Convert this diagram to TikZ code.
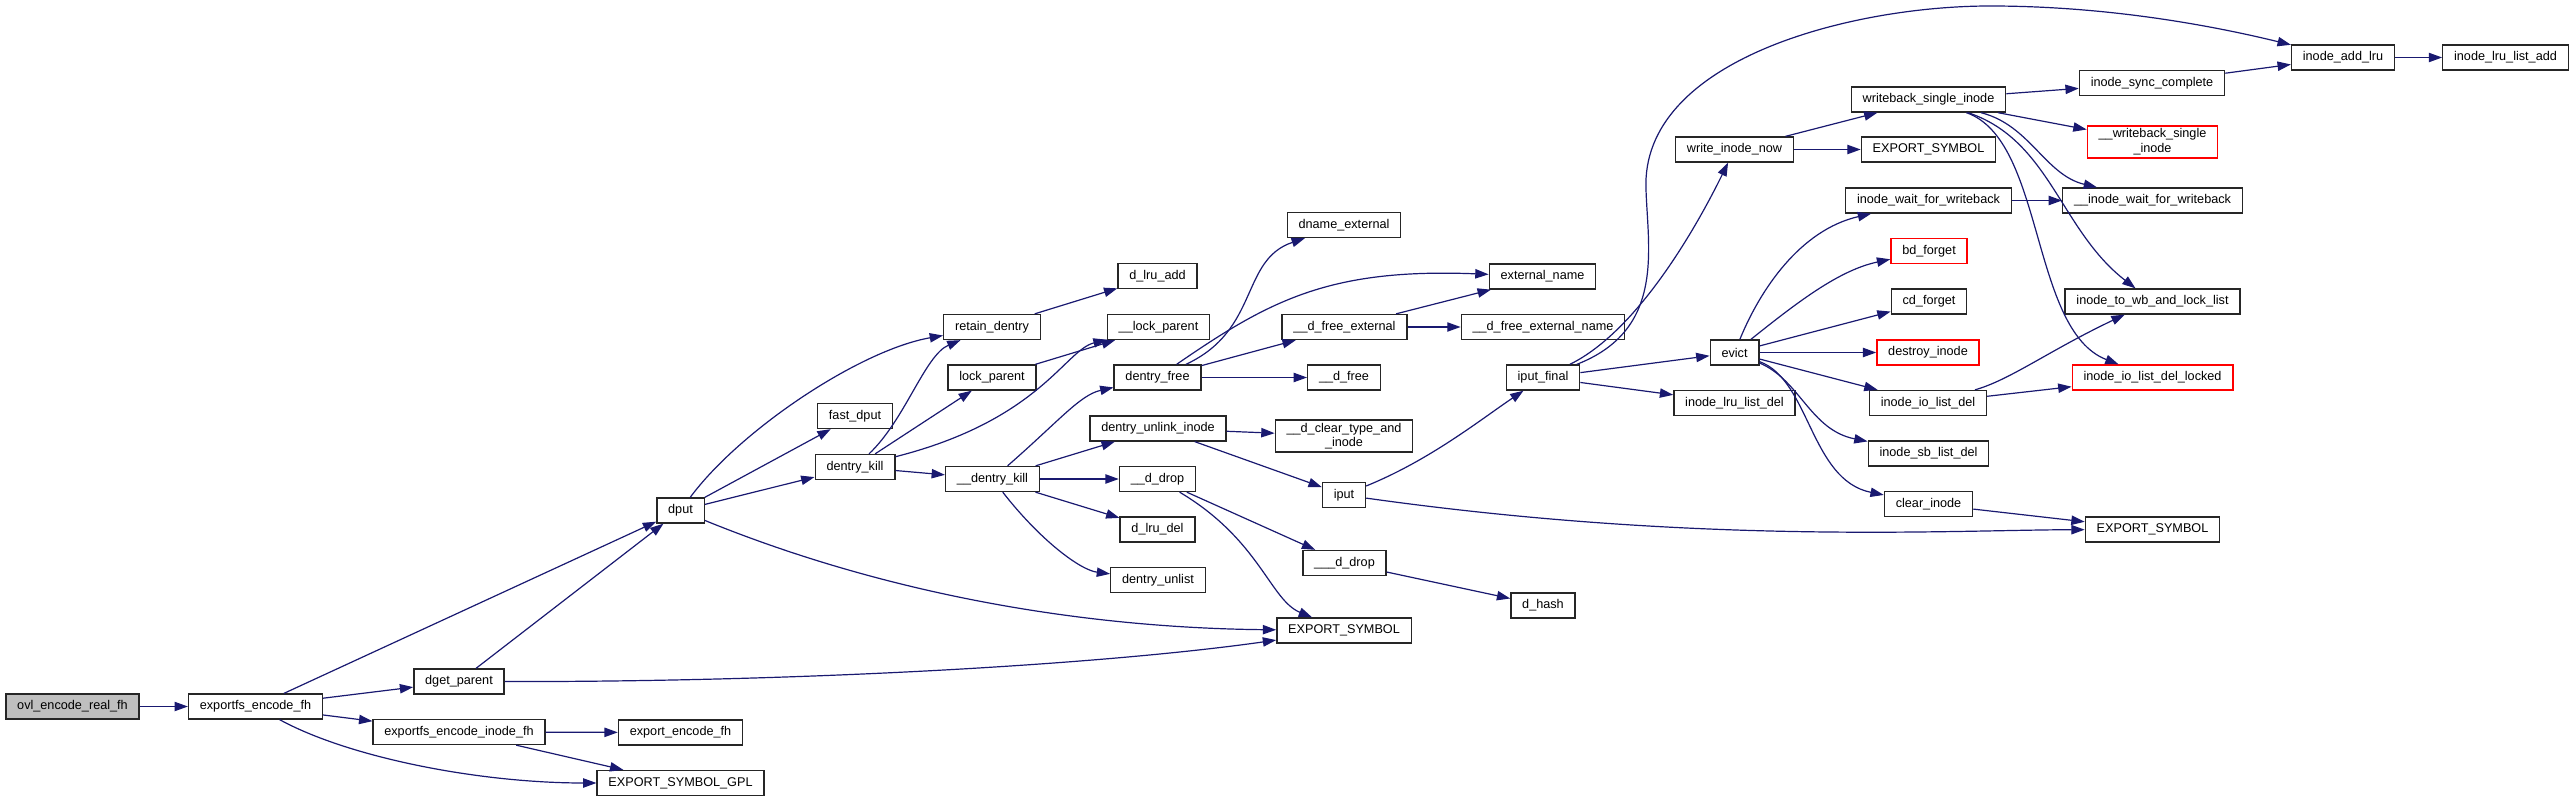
\documentclass[tikz,border=0pt]{standalone}
\usepackage{fontspec}
\setmainfont{Liberation Sans}
\usepackage{xcolor}
\usetikzlibrary{arrows.meta}
\definecolor{navy}{HTML}{191970}

\begin{document}
\begin{tikzpicture}[
  x=0.75pt, y=-0.75pt,
  fn/.style={draw=black!85, line width=1pt, fill=white, font=\fontsize{9.5}{11}\selectfont,
    inner xsep=8.5pt, inner ysep=2pt, minimum height=18.75pt, align=center},
  redfn/.style={fn, draw=red},
  rootfn/.style={fn, fill=gray!50},
  calls/.style={draw=navy, line width=0.9pt, -{Triangle[length=10pt,width=7pt]}}
]
  \useasboundingbox (0,0) rectangle (2575,802);
  % Nodes, one column per call depth (pixel coordinates, y down).
  \node[rootfn] (ovl) at (72.5,706.5) {ovl\_encode\_real\_fh};
  \node[fn] (expfh) at (255.5,706.5) {exportfs\_encode\_fh};
  \node[fn] (dgetp) at (459,681.5) {dget\_parent};
  \node[fn] (expinode) at (459,732) {exportfs\_encode\_inode\_fh};
  \node[fn] (expenc) at (680.5,732.5) {export\_encode\_fh};
  \node[fn] (expgpl) at (680.5,783) {EXPORT\_SYMBOL\_GPL};
  \node[fn] (dput) at (680.5,510.5) {dput};
  \node[fn] (fastdput) at (855,416) {fast\_dput};
  \node[fn] (dkill) at (855,467) {dentry\_kill};
  \node[fn] (retain) at (992,327) {retain\_dentry};
  \node[fn] (lockp) at (992,377.5) {lock\_parent};
  \node[fn] (ddkill) at (992.5,479) {\_\_dentry\_kill};
  \node[fn] (lruadd) at (1157.5,276) {d\_lru\_add};
  \node[fn] (ulockp) at (1158.5,327) {\_\_lock\_parent};
  \node[fn] (dfree) at (1157.5,377.5) {dentry\_free};
  \node[fn] (unlink) at (1158,428.5) {dentry\_unlink\_inode};
  \node[fn] (ddrop) at (1157.5,479) {\_\_d\_drop};
  \node[fn] (lrudel) at (1157.5,529.5) {d\_lru\_del};
  \node[fn] (unlist) at (1158,580) {dentry\_unlist};
  \node[fn] (dnameext) at (1344,225) {dname\_external};
  \node[fn] (dfreeext) at (1344.5,327) {\_\_d\_free\_external};
  \node[fn] (ddfree) at (1344,377.5) {\_\_d\_free};
  \node[fn] (dclear) at (1344,436) {\_\_d\_clear\_type\_and\\\_inode};
  \node[fn] (iput) at (1344,495) {iput};
  \node[fn] (dddrop) at (1344.5,563) {\_\_\_d\_drop};
  \node[fn] (expsyma) at (1344,630.5) {EXPORT\_SYMBOL};
  \node[fn] (extname) at (1542.5,276.5) {external\_name};
  \node[fn] (dfreeextname) at (1543,327) {\_\_d\_free\_external\_name};
  \node[fn] (iputfinal) at (1543,377.5) {iput\_final};
  \node[fn] (dhash) at (1543,605.5) {d\_hash};
  \node[fn] (writenow) at (1734.5,149.5) {write\_inode\_now};
  \node[fn] (evict) at (1734.5,352.5) {evict};
  \node[fn] (lrulistdel) at (1734.5,403) {inode\_lru\_list\_del};
  \node[fn] (wbsingle) at (1928.5,99.5) {writeback\_single\_inode};
  \node[fn] (expsymb) at (1928.5,149.5) {EXPORT\_SYMBOL};
  \node[fn] (waitwb) at (1928.5,200.5) {inode\_wait\_for\_writeback};
  \node[redfn] (bdforget) at (1929,251) {bd\_forget};
  \node[fn] (cdforget) at (1929,301.5) {cd\_forget};
  \node[redfn] (destroy) at (1928,352.5) {destroy\_inode};
  \node[fn] (iolistdel) at (1928,403) {inode\_io\_list\_del};
  \node[fn] (sblistdel) at (1928.5,453.5) {inode\_sb\_list\_del};
  \node[fn] (clearinode) at (1928.5,504) {clear\_inode};
  \node[fn] (synccomplete) at (2152,83) {inode\_sync\_complete};
  \node[redfn] (uwbsingle) at (2152.5,142) {\_\_writeback\_single\\\_inode};
  \node[fn] (uwaitwb) at (2152.5,200.5) {\_\_inode\_wait\_for\_writeback};
  \node[fn] (towb) at (2152.5,301.5) {inode\_to\_wb\_and\_lock\_list};
  \node[redfn] (iolistdellocked) at (2152.5,377.5) {inode\_io\_list\_del\_locked};
  \node[fn] (expsymc) at (2152.5,529.5) {EXPORT\_SYMBOL};
  \node[fn] (addlru) at (2343,57.5) {inode\_add\_lru};
  \node[fn] (lrulistadd) at (2505.5,57.5) {inode\_lru\_list\_add};

  % Straight calls
  \foreach \a/\b in {ovl/expfh, expfh/dgetp, expfh/expinode, expfh/dput, dgetp/dput,
      expinode/expenc, expinode/expgpl, dput/fastdput, dput/dkill, retain/lruadd,
      dkill/lockp, dkill/ddkill, lockp/ulockp, ddkill/unlink, ddkill/ddrop, ddkill/lrudel,
      dfree/dfreeext, dfree/ddfree, dfreeext/extname, dfreeext/dfreeextname,
      unlink/dclear, unlink/iput, ddrop/dddrop, dddrop/dhash, iputfinal/evict,
      iputfinal/lrulistdel, writenow/wbsingle, writenow/expsymb, wbsingle/synccomplete,
      wbsingle/uwbsingle, synccomplete/addlru, addlru/lrulistadd, waitwb/uwaitwb,
      evict/cdforget, evict/destroy, evict/iolistdel, iolistdel/iolistdellocked,
      clearinode/expsymc}
    \draw[calls] (\a) -- (\b);

  % Curved calls
  \draw[calls] (expfh) .. controls (350,758) and (480,783) .. (expgpl);
  \draw[calls] (dput) .. controls (740,430) and (860,350) .. (retain);
  \draw[calls] (dkill) .. controls (905,420) and (925,355) .. (retain);
  \draw[calls] (dkill) .. controls (1040,420) and (1065,350) .. (ulockp);
  \draw[calls] (ddkill) .. controls (1060,420) and (1080,395) .. (dfree);
  \draw[calls] (ddkill) .. controls (1040,540) and (1080,570) .. (unlist);
  \draw[calls] (dfree) .. controls (1260,330) and (1240,260) .. (dnameext);
  \draw[calls] (dfree) .. controls (1270,300) and (1330,268) .. (extname);
  \draw[calls] (ddrop) .. controls (1260,540) and (1270,600) .. (expsyma);
  \draw[calls] (dput) .. controls (900,600) and (1100,628) .. (expsyma);
  \draw[calls] (dgetp) .. controls (800,682) and (1100,665) .. (expsyma);
  \draw[calls] (iput) .. controls (1430,460) and (1480,420) .. (iputfinal);
  \draw[calls] (iput) .. controls (1700,545) and (1950,530) .. (expsymc);
  \draw[calls] (iputfinal) .. controls (1640,330) and (1700,220) .. (writenow);
  \draw[calls] (iputfinal) .. controls (1665,330) and (1648,250) .. (1646,190)
    .. controls (1640,60) and (1850,6) .. (1990,6)
    .. controls (2120,6) and (2230,30) .. (addlru);
  \draw[calls] (wbsingle) .. controls (2030,125) and (2045,175) .. (uwaitwb);
  \draw[calls] (wbsingle) .. controls (2050,140) and (2060,230) .. (towb);
  \draw[calls] (wbsingle) .. controls (2045,140) and (2030,330) .. (iolistdellocked);
  \draw[calls] (evict) .. controls (1760,290) and (1800,230) .. (waitwb);
  \draw[calls] (evict) .. controls (1800,300) and (1840,270) .. (bdforget);
  \draw[calls] (evict) .. controls (1800,380) and (1810,430) .. (sblistdel);
  \draw[calls] (evict) .. controls (1810,380) and (1810,480) .. (clearinode);
  \draw[calls] (iolistdel) .. controls (2010,380) and (2050,350) .. (towb);
\end{tikzpicture}
\end{document}
